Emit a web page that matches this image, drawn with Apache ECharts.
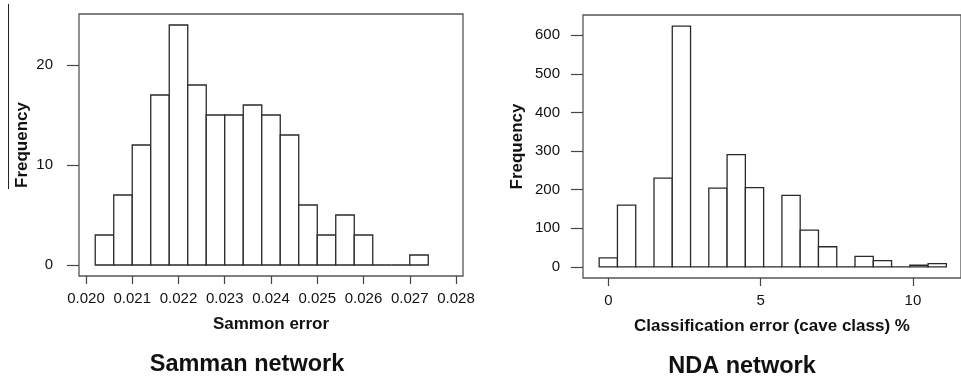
<!DOCTYPE html>
<html>
<head>
<meta charset="utf-8">
<script src="https://cdn.jsdelivr.net/npm/echarts@6/dist/echarts.min.js"></script>
<style>
html,body{margin:0;padding:0;background:#fff;}
#chart{width:961px;height:382px;}
</style>
</head>
<body>
<div id="chart"></div>
<script>
// ---- Data ----
const samEdges = [0.0202,0.0206,0.0210,0.0214,0.0218,0.0222,0.0226,0.0230,0.0234,0.0238,0.0242,0.0246,0.0250,0.0254,0.0258,0.0262,0.0266,0.0270,0.0274];
const samCounts = [3,7,12,17,24,18,15,15,16,15,13,6,3,5,3,0,0,1];
const samXTicks = [0.020,0.021,0.022,0.023,0.024,0.025,0.026,0.027,0.028];
const samYTicks = [0,10,20];

const ndaEdges = [-0.3,0.3,0.9,1.5,2.1,2.7,3.3,3.9,4.5,5.1,5.7,6.3,6.9,7.5,8.1,8.7,9.3,9.9,10.5,11.1];
const ndaCounts = [23,160,0,230,624,0,204,291,205,0,185,95,52,0,27,16,0,4,8];
const ndaXTicks = [0,5,10];
const ndaYTicks = [0,100,200,300,400,500,600];

const titles = ['Samman network','NDA network'];
const xNames = ['Sammon error','Classification error (cave class) %'];
const yName = 'Frequency';

// ---- Build ----
function bins(edges, counts){
  return counts.map((c,i)=>[edges[i], edges[i+1], c]);
}
function renderItem(params, api){
  const lo = api.value(0), hi = api.value(1), v = api.value(2);
  const p0 = api.coord([lo, 0]);
  const p1 = api.coord([hi, v]);
  return {
    type:'rect',
    shape:{x:p0[0], y:p1[1], width:p1[0]-p0[0], height:p0[1]-p1[1]},
    style:{fill:'#fff', stroke:'#2a2a2a', lineWidth:1.3}
  };
}
const FONT = '"Liberation Sans", Arial, sans-serif';
const TXT = '#111';
function xAxis(gridIndex, min, max, ticks, name, fmt){
  return {
    type:'value', gridIndex, min, max,
    axisLine:{show:false, onZero:false},
    splitLine:{show:false},
    axisTick:{show:true, length:8, customValues:ticks, lineStyle:{color:'#444', width:1.2}},
    axisLabel:{customValues:ticks, margin:15, color:TXT, fontSize:15, fontFamily:FONT, formatter:fmt},
    name, nameLocation:'middle', nameGap:40,
    nameTextStyle:{color:TXT, fontSize:17, fontWeight:'bold', fontFamily:FONT}
  };
}
function yAxis(gridIndex, min, max, ticks, margin, gap){
  return {
    type:'value', gridIndex, min, max,
    axisLine:{show:false, onZero:false},
    splitLine:{show:false},
    axisTick:{show:true, length:12, customValues:ticks, lineStyle:{color:'#444', width:1.2}},
    axisLabel:{customValues:ticks, margin, color:TXT, fontSize:15, fontFamily:FONT},
    name:yName, nameLocation:'middle', nameGap:gap, nameRotate:90,
    nameTextStyle:{color:TXT, fontSize:17, fontWeight:'bold', fontFamily:FONT}
  };
}

const chart = echarts.init(document.getElementById('chart'), null, {renderer:'canvas'});
chart.setOption({
  animation:false,
  backgroundColor:'#fff',
  grid:[
    {left:79, top:14, right:498, bottom:106, show:true, borderColor:'#555', borderWidth:1.3, backgroundColor:'transparent'},
    {left:583, top:15, right:-4, bottom:104, show:true, borderColor:'#555', borderWidth:1.3, backgroundColor:'transparent'}
  ],
  xAxis:[
    xAxis(0, 0.019849, 0.028151, samXTicks, xNames[0], v=>v.toFixed(3)),
    xAxis(1, -0.831, 11.58, ndaXTicks, xNames[1], v=>String(Math.round(v)))
  ],
  yAxis:[
    yAxis(0, -1.1, 25.1, samYTicks, 26, 48),
    yAxis(1, -29, 652.6, ndaYTicks, 23, 57)
  ],
  series:[
    {type:'custom', xAxisIndex:0, yAxisIndex:0, renderItem, encode:{x:[0,1], y:2}, data:bins(samEdges, samCounts), clip:false},
    {type:'custom', xAxisIndex:1, yAxisIndex:1, renderItem, encode:{x:[0,1], y:2}, data:bins(ndaEdges, ndaCounts), clip:false}
  ],
  graphic:[
    {type:'line', shape:{x1:8.5, y1:4, x2:8.5, y2:189}, style:{stroke:'#222', lineWidth:1}},
    {type:'text', x:247, y:365, style:{text:titles[0], fill:TXT, font:'bold 23.5px '+FONT, textAlign:'center', textVerticalAlign:'middle'}},
    {type:'text', x:742, y:367, style:{text:titles[1], fill:TXT, font:'bold 23.5px '+FONT, textAlign:'center', textVerticalAlign:'middle'}}
  ]
});
</script>
</body>
</html>
